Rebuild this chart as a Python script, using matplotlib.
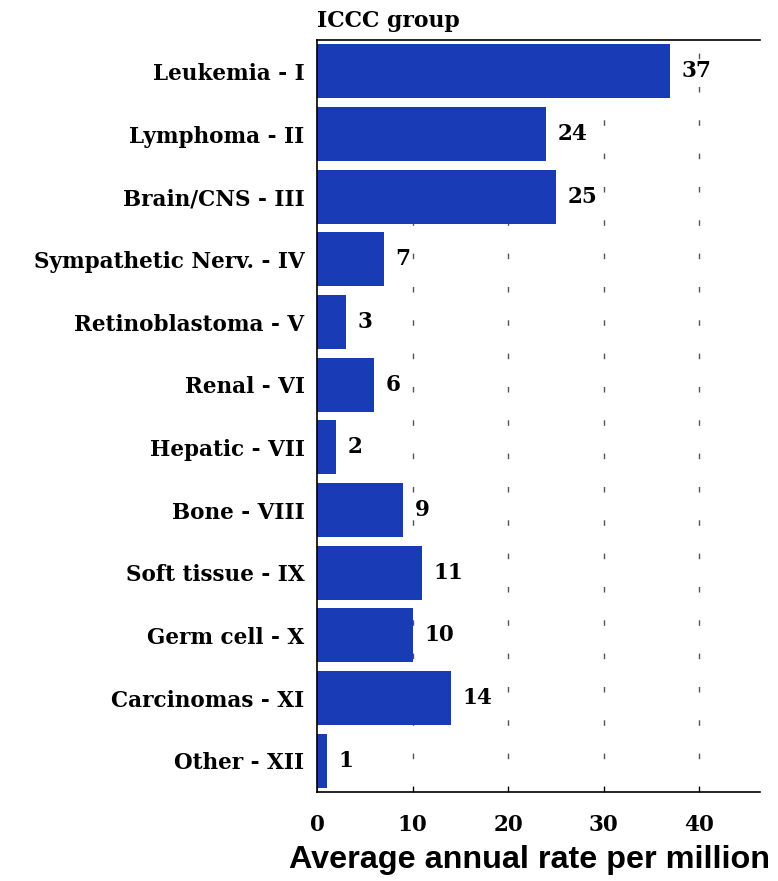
import numpy as np
import matplotlib.pyplot as plt

groups = ['Leukemia - I', 'Lymphoma - II', 'Brain/CNS - III',
          'Sympathetic Nerv. - IV', 'Retinoblastoma - V', 'Renal - VI',
          'Hepatic - VII', 'Bone - VIII', 'Soft tissue - IX',
          'Germ cell - X', 'Carcinomas - XI', 'Other - XII']
rates = [37, 24, 25, 7, 3, 6, 2, 9, 11, 10, 14, 1]
xticks = [0, 10, 20, 30, 40]

serif = 'DejaVu Serif'
bar_color = '#1a3bb6'

fig = plt.figure(figsize=(7.78, 8.81), dpi=100)
ax = fig.add_axes([0.4075, 0.101, 0.5695, 0.8536])

y = np.arange(len(groups))
ax.barh(y, rates, height=0.86, color=bar_color, zorder=2)

# sparse dashed grid lines
for xv in xticks[1:]:
    ax.axvline(xv, color='#555555', lw=1.0, linestyle=(0, (4, 20)), zorder=1)

for yi, v in zip(y, rates):
    ax.text(v + 1.2, yi, str(v), va='center', ha='left',
            fontfamily=serif, fontweight='bold', fontsize=15.5)

ax.set_xlim(0, 46.4)
ax.set_ylim(len(groups) - 0.5, -0.5)
ax.set_yticks(y)
ax.set_yticklabels(groups, fontfamily=serif, fontweight='bold', fontsize=15.5)
ax.set_xticks(xticks)
ax.set_xticklabels([str(t) for t in xticks], fontfamily=serif,
                   fontweight='bold', fontsize=15.5)
ax.tick_params(axis='y', length=0, pad=9)
ax.tick_params(axis='x', direction='in', length=4, pad=16)

ax.spines['right'].set_visible(False)
for s in ['left', 'top', 'bottom']:
    ax.spines[s].set_linewidth(1.2)

ax.text(0, 1.01, 'ICCC group', transform=ax.transAxes, ha='left',
        va='bottom', fontfamily=serif, fontweight='bold', fontsize=15.8)
fig.text(0.99, 0.007, 'Average annual rate per million', ha='right',
         va='bottom', fontfamily='Liberation Sans', fontweight='bold',
         fontsize=23.3)

fig.savefig('out.png', dpi=100)
